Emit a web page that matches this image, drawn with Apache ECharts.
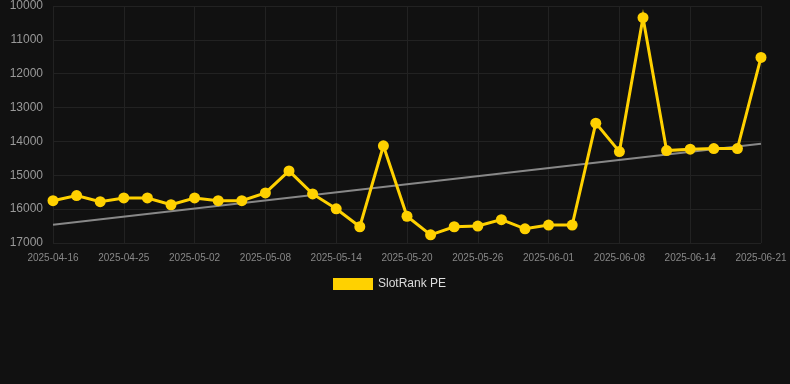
<!DOCTYPE html>
<html>
<head>
<meta charset="utf-8">
<script src="https://cdn.jsdelivr.net/npm/echarts@6/dist/echarts.min.js"></script>
<style>
html,body{margin:0;padding:0;background:#111111;}
#chart{width:790px;height:384px;}
</style>
</head>
<body>
<div id="chart"></div>
<script>
var categories = ['2025-04-16','2025-04-19','2025-04-22','2025-04-25','2025-04-27','2025-04-30','2025-05-02','2025-05-04','2025-05-06','2025-05-08','2025-05-10','2025-05-12','2025-05-14','2025-05-16','2025-05-18','2025-05-20','2025-05-22','2025-05-24','2025-05-26','2025-05-28','2025-05-30','2025-06-01','2025-06-03','2025-06-05','2025-06-08','2025-06-10','2025-06-12','2025-06-14','2025-06-16','2025-06-19','2025-06-21'];
var rankValues = [15750,15600,15780,15670,15670,15870,15670,15750,15750,15520,14870,15550,15990,16520,14130,16210,16760,16520,16500,16310,16580,16470,16470,13460,14300,10345,14270,14230,14210,14210,11520];
var trendValues = [16460,14070];
var yTicks = [10000,11000,12000,13000,14000,15000,16000,17000];

var trendData = categories.map(function(c,i){
  if(i===0) return trendValues[0];
  if(i===categories.length-1) return trendValues[1];
  return null;
});

var chart = echarts.init(document.getElementById('chart'));
chart.setOption({
  backgroundColor:'#111111',
  animation:false,
  grid:{left:53,right:29,top:6,bottom:141},
  legend:{
    top:278,left:333,
    data:[{name:'SlotRank PE',icon:'rect'}],
    itemWidth:40,itemHeight:12,itemGap:10,
    padding:0,
    textStyle:{color:'#dddddd',fontSize:12,fontFamily:'Liberation Sans, Arial, sans-serif'}
  },
  xAxis:{
    type:'category',
    data:categories,
    boundaryGap:false,
    axisLine:{show:false},
    axisTick:{show:false},
    axisLabel:{interval:2,color:'#888888',fontSize:10,margin:10,fontFamily:'Liberation Sans, Arial, sans-serif'},
    splitLine:{show:true,interval:2,lineStyle:{color:'#222222',width:1}}
  },
  yAxis:{
    type:'value',
    inverse:true,
    min:yTicks[0],max:yTicks[yTicks.length-1],interval:1000,
    axisLine:{show:false},
    axisTick:{show:false},
    axisLabel:{color:'#999999',fontSize:12,margin:10,fontFamily:'Liberation Sans, Arial, sans-serif',
      formatter:function(v){return String(v);}},
    splitLine:{show:true,lineStyle:{color:'#222222',width:1}}
  },
  series:[
    {
      name:'SlotRank PE',
      type:'line',
      data:rankValues,
      symbol:'circle',
      symbolSize:11,
      itemStyle:{color:'#FFD100'},
      lineStyle:{color:'#FFD100',width:3,join:'miter'},
      z:3
    },
    {
      name:'trend',
      type:'line',
      data:trendData,
      connectNulls:true,
      symbol:'none',
      lineStyle:{color:'#888888',width:2},
      itemStyle:{color:'#888888'},
      z:2
    }
  ]
});
</script>
</body>
</html>
